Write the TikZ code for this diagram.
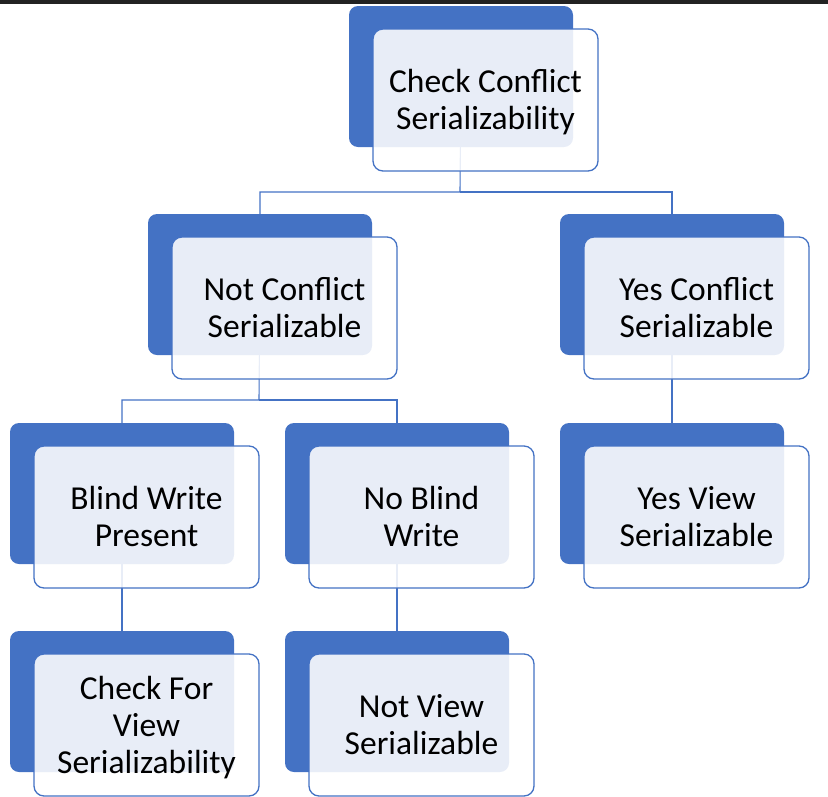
\documentclass[tikz,border=0pt]{standalone}
\usepackage{fontspec}
\setmainfont{Carlito}
\definecolor{sblue}{HTML}{4472C4}
\definecolor{topbar}{HTML}{222222}
\newcommand\tstrut{\rule{0pt}{34pt}}
\begin{document}
\begin{tikzpicture}[x=1pt,y=-1pt,
  backbox/.style={rectangle,rounded corners=9pt,fill=sblue,minimum width=224pt,minimum height=141pt,inner sep=0pt},
  frontbox/.style={rectangle,rounded corners=10pt,fill=white,fill opacity=0.88,text opacity=1,draw=sblue,line width=1.3pt,minimum width=225pt,minimum height=142pt,inner sep=0pt,align=center,font=\fontsize{33.5}{37}\selectfont,text=black},
  conn/.style={draw=sblue,line width=1.1pt}]
\useasboundingbox (0,0) rectangle (828,796);
\fill[topbar] (0,0) rectangle (828,3.5);
% connector junctions
\coordinate (j1) at (460,192);
\coordinate (j2) at (259,400);
% box positions
\path
  (461,76.5) coordinate (pT)
  (260,284.5) coordinate (pL)
  (672,284.5) coordinate (pR)
  (122,493.5) coordinate (pBW)
  (397,493.5) coordinate (pNB)
  (672,493.5) coordinate (pYV)
  (122,701.5) coordinate (pCF)
  (397,701.5) coordinate (pNV);
% connectors first (behind boxes)
\draw[conn] (pT) -- (j1) -| (pL);
\draw[conn] (j1) -| (pR);
\draw[conn] (pL) -- (j2) -| (pBW);
\draw[conn] (j2) -| (pNB);
\draw[conn] (pR) -- (pYV);
\draw[conn] (pBW) -- (pCF);
\draw[conn] (pNB) -- (pNV);
% back boxes
\node[backbox] (bT) at (pT) {};
\node[backbox] (bL) at (pL) {};
\node[backbox] (bR) at (pR) {};
\node[backbox] (bBW) at (pBW) {};
\node[backbox] (bNB) at (pNB) {};
\node[backbox] (bYV) at (pYV) {};
\node[backbox] (bCF) at (pCF) {};
\node[backbox] (bNV) at (pNV) {};
% front boxes with text
\node[frontbox] (fT) at (485.5,100) {\tstrut Check Conflict\\Serializability\strut};
\node[frontbox] (fL) at (284.5,308) {\tstrut Not Conflict\\Serializable\strut};
\node[frontbox] (fR) at (696.5,308) {\tstrut Yes Conflict\\Serializable\strut};
\node[frontbox] (fBW) at (146.5,517) {\tstrut Blind Write\\Present\strut};
\node[frontbox] (fNB) at (421.5,517) {\tstrut No Blind\\Write\strut};
\node[frontbox] (fYV) at (696.5,517) {\tstrut Yes View\\Serializable\strut};
\node[frontbox] (fCF) at (146.5,725) {\tstrut Check For\\View\\Serializability\strut};
\node[frontbox] (fNV) at (421.5,725) {\tstrut Not View\\Serializable\strut};
\end{tikzpicture}
\end{document}
